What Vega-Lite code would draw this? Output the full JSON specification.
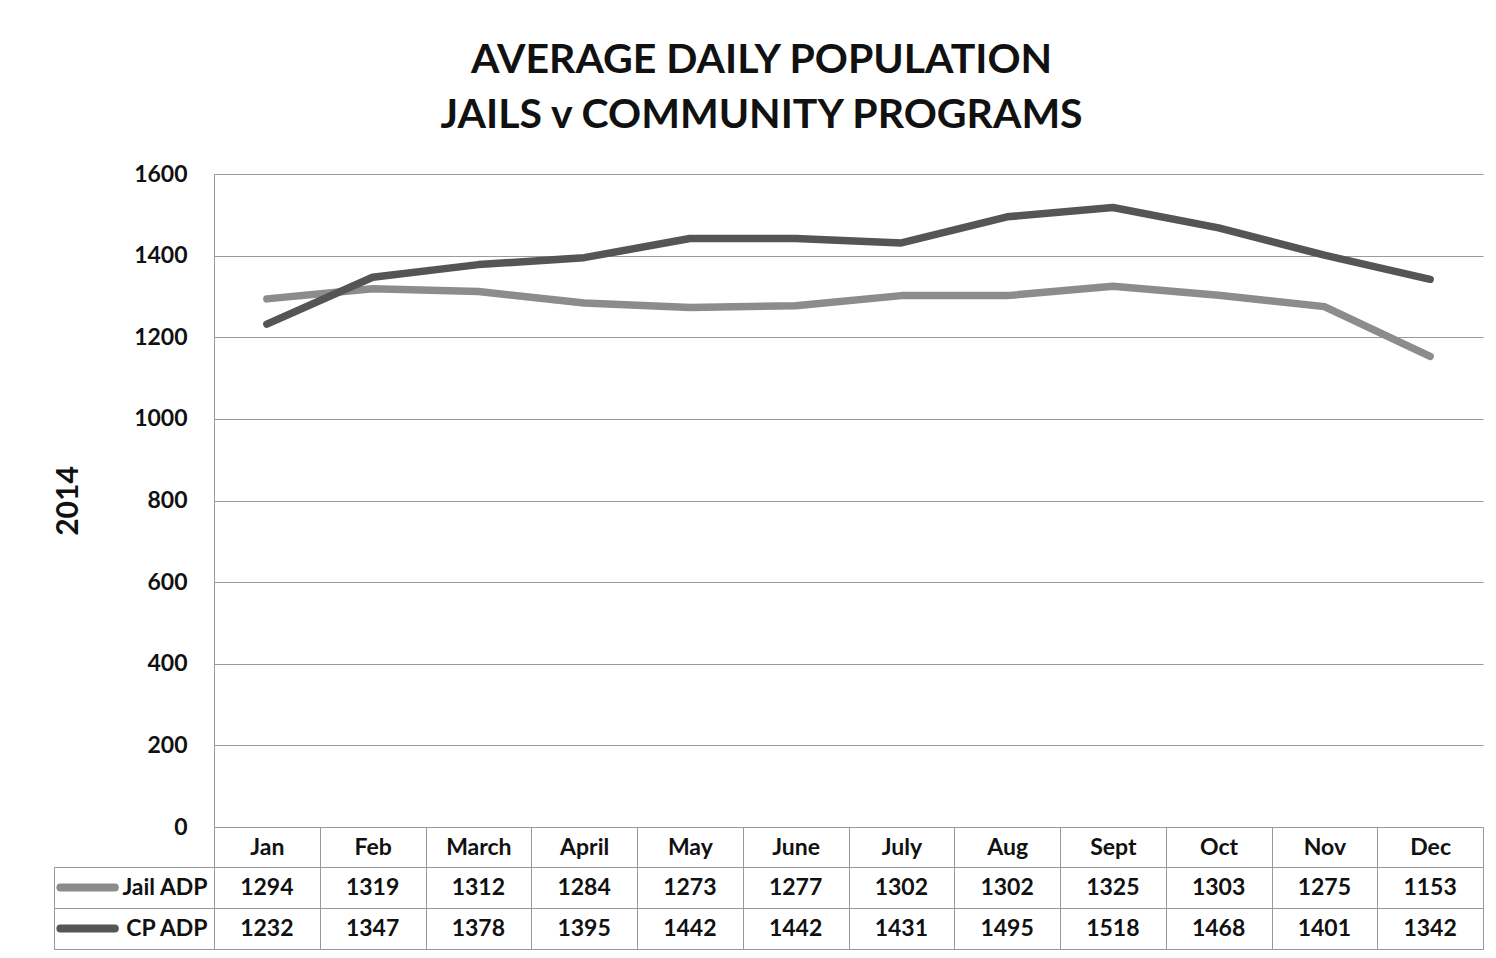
{
  "$schema": "https://vega.github.io/schema/vega-lite/v6.json",
  "padding": {"left": 53, "top": 40, "right": 10, "bottom": 5},
  "background": "white",
  "title": {
    "text": ["AVERAGE DAILY POPULATION", "JAILS v COMMUNITY PROGRAMS"],
    "font": "Lato",
    "fontSize": 41,
    "fontWeight": "bold",
    "color": "#111",
    "lineHeight": 55,
    "anchor": "middle",
    "dx": -7,
    "offset": 26
  },
  "data": {
    "values": [
      {"month": "Jan", "series": "Jail ADP", "value": 1294},
      {"month": "Feb", "series": "Jail ADP", "value": 1319},
      {"month": "March", "series": "Jail ADP", "value": 1312},
      {"month": "April", "series": "Jail ADP", "value": 1284},
      {"month": "May", "series": "Jail ADP", "value": 1273},
      {"month": "June", "series": "Jail ADP", "value": 1277},
      {"month": "July", "series": "Jail ADP", "value": 1302},
      {"month": "Aug", "series": "Jail ADP", "value": 1302},
      {"month": "Sept", "series": "Jail ADP", "value": 1325},
      {"month": "Oct", "series": "Jail ADP", "value": 1303},
      {"month": "Nov", "series": "Jail ADP", "value": 1275},
      {"month": "Dec", "series": "Jail ADP", "value": 1153},
      {"month": "Jan", "series": "CP ADP", "value": 1232},
      {"month": "Feb", "series": "CP ADP", "value": 1347},
      {"month": "March", "series": "CP ADP", "value": 1378},
      {"month": "April", "series": "CP ADP", "value": 1395},
      {"month": "May", "series": "CP ADP", "value": 1442},
      {"month": "June", "series": "CP ADP", "value": 1442},
      {"month": "July", "series": "CP ADP", "value": 1431},
      {"month": "Aug", "series": "CP ADP", "value": 1495},
      {"month": "Sept", "series": "CP ADP", "value": 1518},
      {"month": "Oct", "series": "CP ADP", "value": 1468},
      {"month": "Nov", "series": "CP ADP", "value": 1401},
      {"month": "Dec", "series": "CP ADP", "value": 1342}
    ]
  },
  "columns": 2,
  "spacing": {"row": 40, "column": 0},
  "bounds": "flush",
  "align": "each",
  "config": {
    "view": {"stroke": null},
    "font": "Lato"
  },
  "concat": [
    {
      "width": 160,
      "height": 653,
      "data": {"values": []},
      "mark": {"type": "text"},
      "encoding": {}
    },
    {
      "width": 1269,
      "height": 653,
      "mark": {"type": "line", "strokeWidth": 7.5, "strokeCap": "round", "strokeJoin": "round"},
      "encoding": {
        "x": {
          "field": "month",
          "type": "nominal",
          "sort": ["Jan", "Feb", "March", "April", "May", "June", "July", "Aug", "Sept", "Oct", "Nov", "Dec"],
          "bandPosition": 0.5,
          "scale": {"type": "band", "paddingInner": 0, "paddingOuter": 0},
          "axis": {
            "title": null,
            "domain": false,
            "grid": false,
            "ticks": true,
            "tickBand": "extent",
            "tickSize": 40,
            "tickColor": "#999",
            "tickWidth": 1,
            "labelPadding": -20,
            "labelBaseline": "middle",
            "labelAngle": 0,
            "labelFont": "Lato",
            "labelFontSize": 23,
            "labelFontWeight": "bold",
            "labelColor": "#111",
            "labelOverlap": false
          }
        },
        "y": {
          "field": "value",
          "type": "quantitative",
          "scale": {"domain": [0, 1600], "nice": false},
          "axis": {
            "values": [0, 200, 400, 600, 800, 1000, 1200, 1400, 1600],
            "format": "d",
            "title": "2014",
            "titleFont": "Lato",
            "titleFontSize": 30,
            "titleFontWeight": "bold",
            "titleColor": "#111",
            "titlePadding": 50,
            "domain": true,
            "domainColor": "#999",
            "ticks": false,
            "grid": true,
            "gridColor": "#9a9a9a",
            "gridWidth": 1,
            "labelPadding": 27,
            "labelFont": "Lato",
            "labelFontSize": 23,
            "labelFontWeight": "bold",
            "labelColor": "#111"
          }
        },
        "color": {
          "field": "series",
          "type": "nominal",
          "scale": {"domain": ["Jail ADP", "CP ADP"], "range": ["#8c8c8c", "#555555"]},
          "legend": null
        }
      }
    },
    {
      "width": 160,
      "height": 82,
      "view": {"stroke": "#999"},
      "transform": [{"filter": "datum.month === 'Jan'"}],
      "encoding": {
        "y": {
          "field": "series",
          "type": "nominal",
          "bandPosition": 0.5,
          "scale": {"type": "band", "domain": ["Jail ADP", "CP ADP"], "paddingInner": 0, "paddingOuter": 0},
          "axis": {"title": null, "labels": false, "ticks": false, "domain": false, "grid": true, "tickBand": "extent", "gridColor": "#999"}
        }
      },
      "layer": [
        {
          "mark": {"type": "rule", "strokeWidth": 8, "strokeCap": "round"},
          "encoding": {
            "x": {"datum": 0.04, "type": "quantitative", "scale": {"domain": [0, 1]}, "axis": null},
            "x2": {"datum": 0.38},
            "color": {
              "field": "series",
              "type": "nominal",
              "scale": {"domain": ["Jail ADP", "CP ADP"], "range": ["#8c8c8c", "#555555"]},
              "legend": null
            }
          }
        },
        {
          "mark": {"type": "text", "align": "right", "baseline": "middle", "font": "Lato", "fontSize": 23, "fontWeight": "bold", "color": "#111"},
          "encoding": {
            "x": {"datum": 0.96, "type": "quantitative"},
            "text": {"field": "series"}
          }
        }
      ]
    },
    {
      "width": 1269,
      "height": 82,
      "view": {"stroke": "#999"},
      "mark": {"type": "text", "baseline": "middle", "align": "center", "font": "Lato", "fontSize": 23, "fontWeight": "bold", "color": "#111"},
      "encoding": {
        "x": {
          "field": "month",
          "type": "nominal",
          "sort": ["Jan", "Feb", "March", "April", "May", "June", "July", "Aug", "Sept", "Oct", "Nov", "Dec"],
          "bandPosition": 0.5,
          "scale": {"type": "band", "paddingInner": 0, "paddingOuter": 0},
          "axis": {"title": null, "labels": false, "ticks": false, "domain": false, "grid": true, "tickBand": "extent", "gridColor": "#999"}
        },
        "y": {
          "field": "series",
          "type": "nominal",
          "bandPosition": 0.5,
          "scale": {"type": "band", "domain": ["Jail ADP", "CP ADP"], "paddingInner": 0, "paddingOuter": 0},
          "axis": {"title": null, "labels": false, "ticks": false, "domain": false, "grid": true, "tickBand": "extent", "gridColor": "#999"}
        },
        "text": {"field": "value", "type": "quantitative", "format": "d"}
      }
    }
  ]
}
